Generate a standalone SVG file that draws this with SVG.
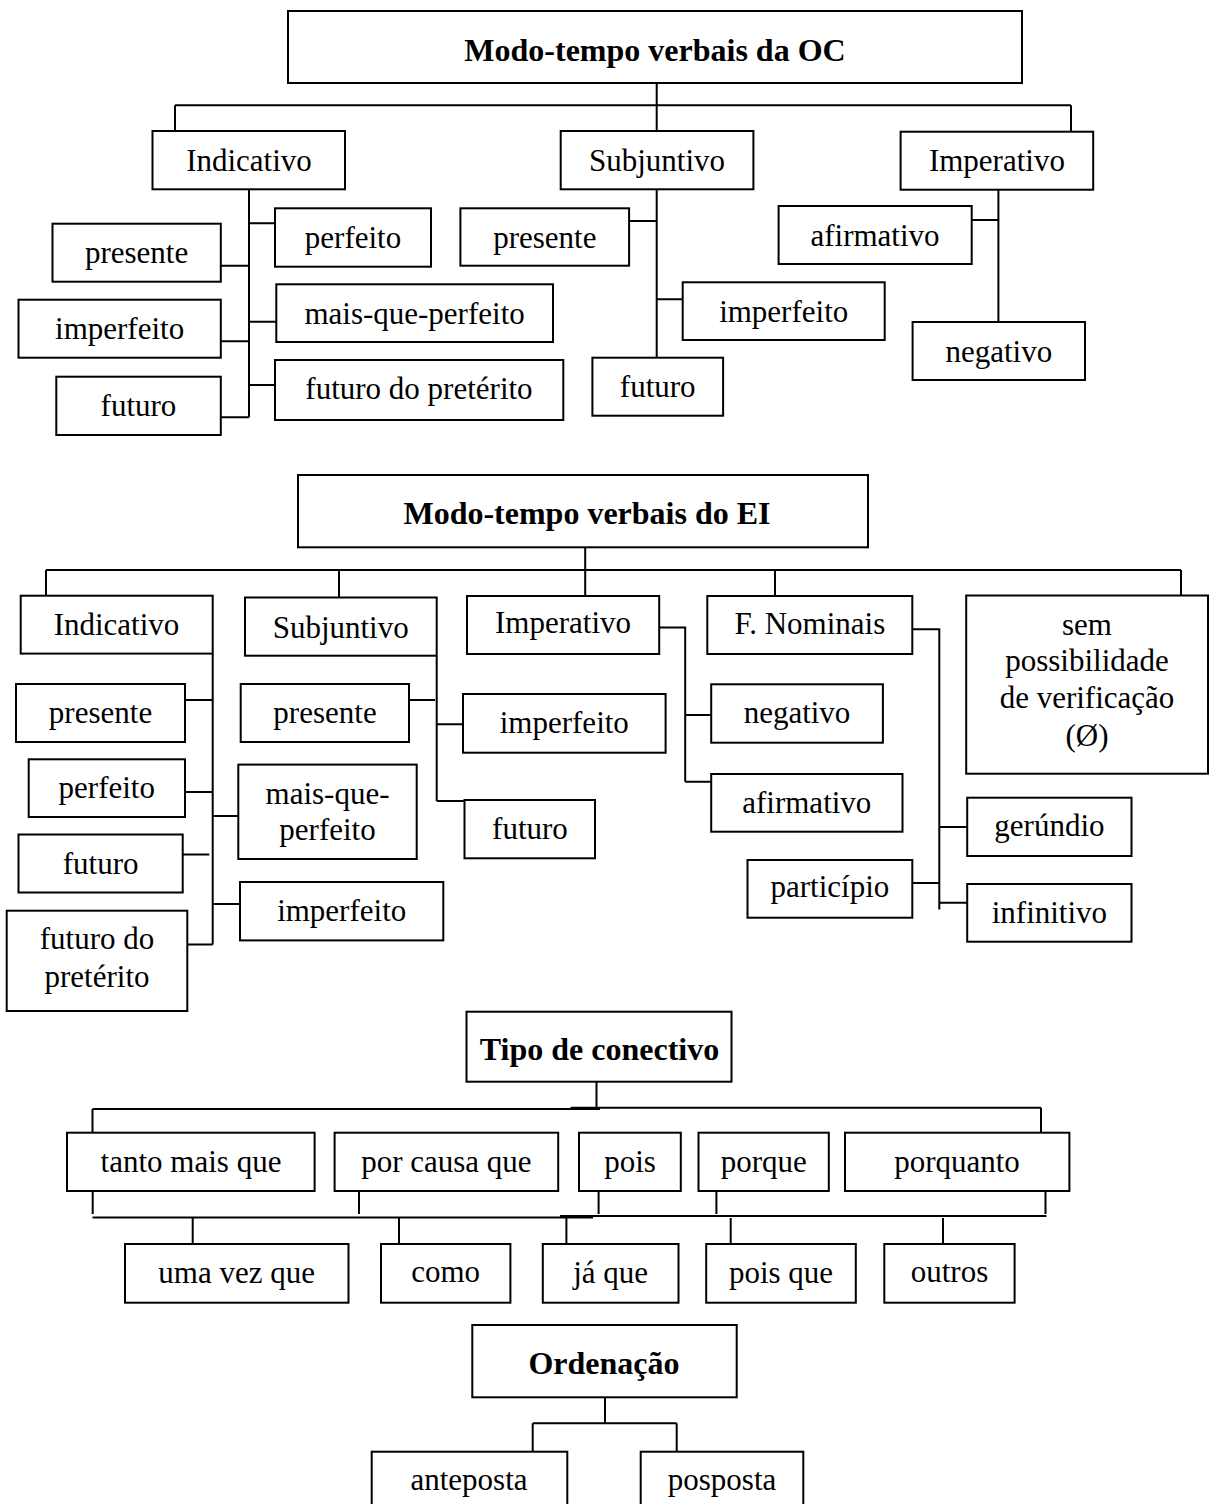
<svg xmlns="http://www.w3.org/2000/svg" width="1209" height="1504" viewBox="0 0 1209 1504">
<style>
.box{fill:#fff;stroke:#000;stroke-width:2}
.ln{stroke:#000;stroke-width:2;fill:none}
.t{font-family:"Liberation Serif","Times New Roman",serif;font-size:31px;text-anchor:middle;fill:#000}
.b{font-weight:bold;font-size:32px}
</style>
<rect width="1209" height="1504" fill="#fff"/>
<g id="connectors" class="ln">
<!-- section 1 -->
<path d="M656.7,83 V131 M175,105.3 H1071 M175,105.3 V131 M1071,105.3 V131.7"/>
<path d="M249,189 V417.3 M249,223.3 H275 M221,265.7 H249 M249,321.7 H276.3 M221,341.3 H249 M249,385 H275 M221,417.3 H249"/>
<path d="M656.7,189 V357.7 M630,221 H656.7 M656.7,299.3 H682.7"/>
<path d="M998.4,189.7 V322 M971.7,220 H998.4"/>
<!-- section 2 -->
<path d="M585.2,547.3 V596 M46,570 H1181 M46,570 V595.7 M339,570 V597.5 M775,570 V596 M1181,570 V595.5"/>
<path d="M212.7,653.6 V944.6 M185,700 H212.7 M185,792 H212.7 M212.7,816 H238.3 M183,854.5 H209.3 M212.7,904 H240 M187.3,944.6 H212.7"/>
<path d="M436.7,655.7 V801 M409,700 H435 M436.7,724.3 H463 M436.7,801 H464.5"/>
<path d="M659.2,627.5 H685.2 V781.7 M685.2,715 H711.2 M685.2,781.7 H711.2"/>
<path d="M912.3,629.3 H939.3 V909.5 M939.3,827 H967.2 M912.3,883 H938.3 M939.3,902.7 H967.2"/>
<!-- section 3 -->
<path d="M596.5,1081.7 V1108 M92.5,1109 H600 M570.5,1107.7 H1041 M92.5,1109 V1132.7 M1041,1107.7 V1132.7"/>
<path d="M92.5,1217.5 H593 M560,1216 H1046.5"/>
<path d="M92.7,1191 V1214 M359,1191 V1214 M598.6,1191 V1214 M716.4,1191 V1214 M1045.5,1191 V1214"/>
<path d="M192.7,1218 V1244 M399,1218 V1244 M566.4,1218 V1244 M730.7,1218 V1244 M943,1218 V1244"/>
<!-- section 4 -->
<path d="M605,1397.3 V1423.3 M532.7,1423.3 H676.7 M532.7,1423.3 V1451.7 M676.7,1423.3 V1451.7"/>
</g>

<!-- Section 1 -->
<g id="oc-title"><rect class="box" x="288" y="11" width="734" height="72"/><text class="t b" x="655" y="61">Modo-tempo verbais da OC</text></g>
<g id="oc-indicativo"><rect class="box" x="152.5" y="131" width="192.5" height="58.3"/><text class="t" x="249" y="171">Indicativo</text></g>
<g id="oc-ind-perfeito"><rect class="box" x="275" y="208.3" width="156" height="58.4"/><text class="t" x="353" y="248">perfeito</text></g>
<g id="oc-ind-presente"><rect class="box" x="52.5" y="223.7" width="168.3" height="58"/><text class="t" x="136.6" y="263">presente</text></g>
<g id="oc-ind-imperfeito"><rect class="box" x="18.5" y="299.7" width="202.3" height="58"/><text class="t" x="119.6" y="338.5">imperfeito</text></g>
<g id="oc-ind-maisque"><rect class="box" x="276.3" y="284.3" width="276.7" height="57.7"/><text class="t" x="414.6" y="323.5">mais-que-perfeito</text></g>
<g id="oc-ind-futpret"><rect class="box" x="275" y="360" width="288.3" height="60"/><text class="t" x="419" y="399">futuro do pretérito</text></g>
<g id="oc-ind-futuro"><rect class="box" x="56.3" y="376.7" width="164.5" height="58.3"/><text class="t" x="138.5" y="415.7">futuro</text></g>

<g id="oc-subjuntivo"><rect class="box" x="560.7" y="131" width="192.7" height="58.3"/><text class="t" x="657" y="171">Subjuntivo</text></g>
<g id="oc-subj-presente"><rect class="box" x="460.4" y="208.3" width="168.7" height="57.4"/><text class="t" x="544.8" y="248">presente</text></g>
<g id="oc-subj-imperfeito"><rect class="box" x="682.7" y="282.3" width="202" height="57.7"/><text class="t" x="783.7" y="322">imperfeito</text></g>
<g id="oc-subj-futuro"><rect class="box" x="592.4" y="357.7" width="130.7" height="58"/><text class="t" x="657.7" y="396.7">futuro</text></g>

<g id="oc-imperativo"><rect class="box" x="900.6" y="131.7" width="192.6" height="58"/><text class="t" x="996.9" y="171">Imperativo</text></g>
<g id="oc-imp-afirmativo"><rect class="box" x="778.6" y="206" width="193.1" height="58"/><text class="t" x="875" y="246">afirmativo</text></g>
<g id="oc-imp-negativo"><rect class="box" x="912.6" y="322" width="172.4" height="58"/><text class="t" x="998.8" y="361.7">negativo</text></g>

<!-- Section 2 -->
<g id="ei-title"><rect class="box" x="298" y="475" width="570" height="72.3"/><text class="t b" x="587" y="524">Modo-tempo verbais do EI</text></g>
<g id="ei-indicativo"><rect class="box" x="20.7" y="595.7" width="192" height="57.9"/><text class="t" x="116.5" y="635">Indicativo</text></g>
<g id="ei-ind-presente"><rect class="box" x="16" y="684" width="169" height="58"/><text class="t" x="100.5" y="722.5">presente</text></g>
<g id="ei-ind-perfeito"><rect class="box" x="28.7" y="759.3" width="156.3" height="57.7"/><text class="t" x="106.8" y="797.5">perfeito</text></g>
<g id="ei-ind-futuro"><rect class="box" x="18.5" y="834.5" width="164.2" height="58"/><text class="t" x="100.6" y="874.3">futuro</text></g>
<g id="ei-ind-futpret"><rect class="box" x="6.7" y="910.7" width="180.6" height="100.3"/><text class="t" x="97" y="949.3">futuro do</text><text class="t" x="97" y="986.8">pretérito</text></g>
<g id="ei-ind-maisque"><rect class="box" x="238.3" y="764.6" width="178.4" height="94.4"/><text class="t" x="327.5" y="803.6">mais-que-</text><text class="t" x="327.5" y="840.4">perfeito</text></g>
<g id="ei-ind-imperfeito"><rect class="box" x="240" y="882" width="203.3" height="58.4"/><text class="t" x="341.7" y="920.7">imperfeito</text></g>

<g id="ei-subjuntivo"><rect class="box" x="245" y="597.5" width="191.7" height="58.2"/><text class="t" x="340.7" y="637.5">Subjuntivo</text></g>
<g id="ei-subj-presente"><rect class="box" x="240.7" y="684" width="168.3" height="58"/><text class="t" x="325" y="722.5">presente</text></g>
<g id="ei-subj-imperfeito"><rect class="box" x="463" y="694" width="202.6" height="58.7"/><text class="t" x="564.3" y="732.7">imperfeito</text></g>
<g id="ei-subj-futuro"><rect class="box" x="464.5" y="800" width="130.5" height="58.3"/><text class="t" x="530" y="839">futuro</text></g>

<g id="ei-imperativo"><rect class="box" x="467" y="596" width="192.2" height="58"/><text class="t" x="563" y="633.3">Imperativo</text></g>
<g id="ei-imp-negativo"><rect class="box" x="711.2" y="684.3" width="171.7" height="58.4"/><text class="t" x="797" y="723.3">negativo</text></g>
<g id="ei-imp-afirmativo"><rect class="box" x="711.2" y="774" width="191.3" height="57.7"/><text class="t" x="806.8" y="812.7">afirmativo</text></g>

<g id="ei-fnominais"><rect class="box" x="707.3" y="596" width="205" height="58"/><text class="t" x="809.8" y="634">F. Nominais</text></g>
<g id="ei-fn-gerundio"><rect class="box" x="967.2" y="797.7" width="164.3" height="58.3"/><text class="t" x="1049.4" y="836">gerúndio</text></g>
<g id="ei-fn-participio"><rect class="box" x="747.5" y="860" width="164.8" height="57.7"/><text class="t" x="829.9" y="897.3">particípio</text></g>
<g id="ei-fn-infinitivo"><rect class="box" x="967.2" y="884" width="164.3" height="57.7"/><text class="t" x="1049.4" y="923.3">infinitivo</text></g>

<g id="ei-sem"><rect class="box" x="966.2" y="595.5" width="241.8" height="178.2"/><text class="t" x="1087" y="634.5">sem</text><text class="t" x="1087" y="671.2">possibilidade</text><text class="t" x="1087" y="707.8">de verificação</text><text class="t" x="1087" y="746.3">(Ø)</text></g>

<!-- Section 3 -->
<g id="tipo-title"><rect class="box" x="466.5" y="1011.7" width="265" height="70"/><text class="t b" x="599.5" y="1060">Tipo de conectivo</text></g>
<g id="c-tanto"><rect class="box" x="67" y="1132.7" width="247.6" height="58.3"/><text class="t" x="191" y="1171.7">tanto mais que</text></g>
<g id="c-porcausa"><rect class="box" x="334.6" y="1132.7" width="223.6" height="58.3"/><text class="t" x="446.4" y="1171.7">por causa que</text></g>
<g id="c-pois"><rect class="box" x="579" y="1132.7" width="101.8" height="58.3"/><text class="t" x="630" y="1171.7">pois</text></g>
<g id="c-porque"><rect class="box" x="698.5" y="1132.7" width="130.3" height="58.3"/><text class="t" x="763.7" y="1171.7">porque</text></g>
<g id="c-porquanto"><rect class="box" x="845" y="1132.7" width="224.4" height="58.3"/><text class="t" x="957" y="1171.7">porquanto</text></g>
<g id="c-umavez"><rect class="box" x="125" y="1244" width="223.5" height="58.7"/><text class="t" x="236.7" y="1283.3">uma vez que</text></g>
<g id="c-como"><rect class="box" x="381" y="1244" width="129.4" height="58.7"/><text class="t" x="445.7" y="1282">como</text></g>
<g id="c-jaque"><rect class="box" x="542.8" y="1244" width="135.7" height="58.7"/><text class="t" x="610.6" y="1283.3">já que</text></g>
<g id="c-poisque"><rect class="box" x="706.2" y="1244" width="149.6" height="58.7"/><text class="t" x="781" y="1283.3">pois que</text></g>
<g id="c-outros"><rect class="box" x="884.3" y="1244" width="130.3" height="58.7"/><text class="t" x="949.5" y="1282">outros</text></g>

<!-- Section 4 -->
<g id="ord-title"><rect class="box" x="472.3" y="1325" width="264.4" height="72.3"/><text class="t b" x="604" y="1374">Ordenação</text></g>
<g id="ord-anteposta"><rect class="box" x="371.7" y="1451.7" width="195.6" height="70"/><text class="t" x="469" y="1490">anteposta</text></g>
<g id="ord-posposta"><rect class="box" x="640.7" y="1451.7" width="162.6" height="70"/><text class="t" x="722" y="1490">posposta</text></g>
</svg>
